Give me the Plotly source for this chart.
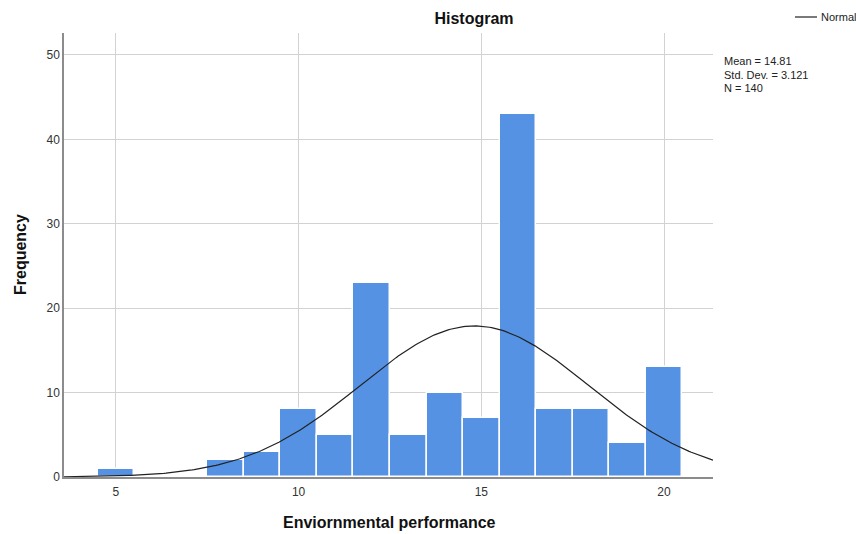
import numpy as np
import plotly.graph_objects as go

# Histogram of environmental performance scores (bin width 1, centred on integers)
score_bins = [5, 8, 9, 10, 11, 12, 13, 14, 15, 16, 17, 18, 19, 20]
frequencies = [1, 2, 3, 8, 5, 23, 5, 10, 7, 43, 8, 8, 4, 13]

stat_mean = 14.81
stat_sd = 3.121
stat_n = 140
bin_width = 1.0

x_range = [3.58, 21.34]
y_range = [0, 52.6]
y_ticks = [0, 10, 20, 30, 40, 50]
x_ticks = [5, 10, 15, 20]

FONT = "Arial, Liberation Sans, sans-serif"
BAR_COLOR = "#5592e3"

# Fitted normal curve scaled to the histogram counts
curve_x = np.linspace(x_range[0], x_range[1], 300)
curve_y = (stat_n * bin_width / (stat_sd * np.sqrt(2 * np.pi))
           * np.exp(-0.5 * ((curve_x - stat_mean) / stat_sd) ** 2))

fig = go.Figure()
fig.add_trace(go.Bar(
    x=score_bins, y=frequencies, width=bin_width,
    marker=dict(color=BAR_COLOR, line=dict(color="#ffffff", width=1.5)),
    showlegend=False, hoverinfo="x+y",
))
fig.add_trace(go.Scatter(
    x=curve_x, y=curve_y, mode="lines", name="Normal",
    line=dict(color="#222222", width=1.2), showlegend=False,
))

W, H = 856, 534
L, R, T, B = 64, 143, 33, 57
plot_w = W - L - R
plot_h = H - T - B

def px_x(px):
    return (px - L) / plot_w

def px_y(py):
    return (H - B - py) / plot_h

fig.update_layout(
    width=W, height=H,
    margin=dict(l=L, r=R, t=T, b=B, autoexpand=False),
    paper_bgcolor="white", plot_bgcolor="white",
    font=dict(family=FONT, color="#222222"),
    title=dict(text="<b>Histogram</b>", x=474 / W, xanchor="center",
               y=1 - 18 / H, yanchor="middle", yref="container",
               font=dict(size=16, color="#111111")),
    bargap=0,
    xaxis=dict(
        range=x_range, tickvals=x_ticks, showgrid=True,
        gridcolor="#d2d2d2", gridwidth=1, zeroline=False,
        showline=True, linecolor="#8c8c8c", linewidth=1.5,
        ticks="", ticklabelstandoff=3, automargin=False,
        tickfont=dict(size=12, color="#333333"),
    ),
    yaxis=dict(
        range=y_range, tickvals=y_ticks, showgrid=True,
        gridcolor="#d2d2d2", gridwidth=1, zeroline=False,
        showline=True, linecolor="#8c8c8c", linewidth=1.5,
        ticks="", automargin=False,
        tickfont=dict(size=12, color="#333333"),
    ),
)

# Axis titles
fig.add_annotation(xref="paper", yref="paper", x=px_x(389), y=px_y(522),
                   text="<b>Enviornmental performance</b>", showarrow=False,
                   xanchor="center", yanchor="middle",
                   font=dict(size=16, color="#111111"))
fig.add_annotation(xref="paper", yref="paper", x=px_x(20), y=px_y(255),
                   text="<b>Frequency</b>", showarrow=False, textangle=-90,
                   xanchor="center", yanchor="middle",
                   font=dict(size=16, color="#111111"))

# Legend entry for the normal curve
fig.add_shape(type="line", xref="paper", yref="paper",
              x0=px_x(795), x1=px_x(817), y0=px_y(17), y1=px_y(17),
              line=dict(color="#222222", width=1.2))
fig.add_annotation(xref="paper", yref="paper", x=px_x(819), y=px_y(17),
                   text="Normal", showarrow=False, xanchor="left",
                   yanchor="middle", font=dict(size=11, color="#222222"))

# Summary statistics block
for i, line in enumerate([f"Mean = {stat_mean:.2f}",
                          f"Std. Dev. = {stat_sd:.3f}",
                          f"N = {stat_n}"]):
    fig.add_annotation(
        xref="paper", yref="paper", x=px_x(722), y=px_y(61 + 13.5 * i),
        text=line, showarrow=False, xanchor="left", yanchor="middle",
        font=dict(size=11, color="#222222"),
    )

fig.write_html("out.html")
